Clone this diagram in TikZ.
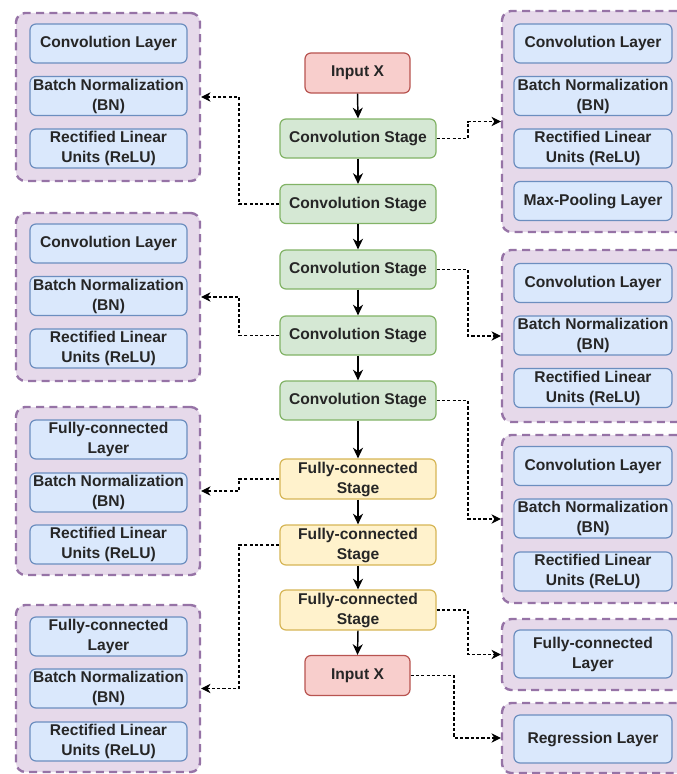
\documentclass[tikz,border=0pt]{standalone}
\usepackage{fontspec}
\setmainfont{Liberation Sans}
\usetikzlibrary{arrows.meta}

\definecolor{grpfill}{HTML}{E6D9EA}
\definecolor{grpdraw}{HTML}{9673A6}
\definecolor{layerfill}{HTML}{DAE8FC}
\definecolor{layerdraw}{HTML}{6C8EBF}
\definecolor{convfill}{HTML}{D5E8D4}
\definecolor{convdraw}{HTML}{82B366}
\definecolor{fcfill}{HTML}{FFF2CC}
\definecolor{fcdraw}{HTML}{D6B656}
\definecolor{iofill}{HTML}{F8CECC}
\definecolor{iodraw}{HTML}{B85450}

\begin{document}
\begin{tikzpicture}[x=0.75pt,y=-0.75pt,
  every node/.style={font=\bfseries\fontsize{11.7}{15}\selectfont, text=black!85,
                     align=center, inner sep=0pt},
  sz/.style 2 args={minimum width=#1*0.75pt, minimum height=#2*0.75pt},
  group/.style={draw=grpdraw, fill=grpfill, line width=1.8pt,
                dash pattern=on 6pt off 4pt, rounded corners=7pt},
  layer/.style={draw=layerdraw, fill=layerfill, line width=0.9pt,
                rounded corners=4.5pt, sz={157}{39}},
  stagebox/.style={line width=0.9pt, rounded corners=4.5pt, sz={156}{39}},
  conv/.style={stagebox, draw=convdraw, fill=convfill},
  fc/.style={stagebox, draw=fcdraw, fill=fcfill, sz={156}{40}},
  io/.style={stagebox, draw=iodraw, fill=iofill, sz={105}{40}},
  flow/.style={line width=1.1pt, -{Stealth[length=8pt, width=7.5pt, inset=2.5pt]}},
  tap/.style={line width=0.8pt, dash pattern=on 2.4pt off 1.6pt,
              -{Stealth[length=7pt, width=7pt, inset=2.2pt]}}
]
\clip (0,0) rectangle (677,774);
\fill[white] (0,0) rectangle (677,774);

% ---------- main pipeline ----------
\node[io]   (inp) at (357.5,73)  {Input X};
\node[conv] (c1)  at (358,138.5) {Convolution Stage};
\node[conv] (c2)  at (358,204)   {Convolution Stage};
\node[conv] (c3)  at (358,269.5) {Convolution Stage};
\node[conv] (c4)  at (358,335.5) {Convolution Stage};
\node[conv] (c5)  at (358,400.5) {Convolution Stage};
\node[fc]   (f1)  at (358,479)   {Fully-connected\\Stage};
\node[fc]   (f2)  at (358,545)   {Fully-connected\\Stage};
\node[fc]   (f3)  at (358,610)   {Fully-connected\\Stage};
\node[io]   (out) at (357.5,675.5) {Input X};

\foreach \a/\b in {inp/c1,c1/c2,c2/c3,c3/c4,c4/c5,c5/f1,f1/f2,f2/f3,f3/out}
  \draw[flow] (\a.south) -- (\b.north);

% ---------- left groups ----------
\node[group, sz={184}{168}] (L1) at (108,97) {};
\node[layer] (L1a) at (108.5,43.5)  {Convolution Layer};
\node[layer] (L1b) at (108.5,96)    {Batch Normalization\\(BN)};
\node[layer] (L1c) at (108.5,148.5) {Rectified Linear\\Units (ReLU)};

\node[group, sz={184}{168}] (L2) at (108,297) {};
\node[layer] (L2a) at (108.5,243.5) {Convolution Layer};
\node[layer] (L2b) at (108.5,296)   {Batch Normalization\\(BN)};
\node[layer] (L2c) at (108.5,348.5) {Rectified Linear\\Units (ReLU)};

\node[group, sz={184}{168}] (L3) at (108,491) {};
\node[layer] (L3a) at (108.5,439.5) {Fully-connected\\Layer};
\node[layer] (L3b) at (108.5,492.5) {Batch Normalization\\(BN)};
\node[layer] (L3c) at (108.5,544.5) {Rectified Linear\\Units (ReLU)};

\node[group, sz={184}{167}] (L4) at (108,688.5) {};
\node[layer] (L4a) at (108.5,636.5) {Fully-connected\\Layer};
\node[layer] (L4b) at (108.5,688.5) {Batch Normalization\\(BN)};
\node[layer] (L4c) at (108.5,741.5) {Rectified Linear\\Units (ReLU)};

% ---------- right groups ----------
\node[group, sz={184}{221}] (R1) at (594,121.5) {};
\node[layer, sz={158}{39}] (R1a) at (593,43.5)  {Convolution Layer};
\node[layer, sz={158}{39}] (R1b) at (593,96)    {Batch Normalization\\(BN)};
\node[layer, sz={158}{39}] (R1c) at (593,148.5) {Rectified Linear\\Units (ReLU)};
\node[layer, sz={158}{39}] (R1d) at (593,201)   {Max-Pooling Layer};

\node[group, sz={184}{172}] (R2) at (594,336) {};
\node[layer, sz={158}{39}] (R2a) at (593,283)   {Convolution Layer};
\node[layer, sz={158}{39}] (R2b) at (593,335.5) {Batch Normalization\\(BN)};
\node[layer, sz={158}{39}] (R2c) at (593,388)   {Rectified Linear\\Units (ReLU)};

\node[group, sz={184}{168}] (R3) at (594,519) {};
\node[layer, sz={158}{39}] (R3a) at (593,466)   {Convolution Layer};
\node[layer, sz={158}{39}] (R3b) at (593,518.5) {Batch Normalization\\(BN)};
\node[layer, sz={158}{39}] (R3c) at (593,571.5) {Rectified Linear\\Units (ReLU)};

\node[group, sz={184}{71}] (R4) at (594,654.5) {};
\node[layer, sz={158}{48}] (R4a) at (593,654) {Fully-connected\\Layer};

\node[group, sz={184}{70}] (R5) at (594,738) {};
\node[layer, sz={158}{48}] (R5a) at (593,739) {Regression Layer};

% ---------- side taps ----------
\coordinate (xl) at (239,0);
\coordinate (xr) at (468,0);
\coordinate (xo) at (454,0);

\draw[tap] (c1.east) -- (c1.east -| xr) |- (R1.west);
\draw[tap] (c3.east) -- (c3.east -| xr) |- (R2.west);
\draw[tap] (c5.east) -- (c5.east -| xr) |- (R3.west);
\draw[tap] (f3.east) -- (f3.east -| xr) |- (R4.west);
\draw[tap] (out.east) -- (out.east -| xo) |- (R5.west);

\draw[tap] (c2.west) -- (c2.west -| xl) |- (L1.east);
\draw[tap] (c4.west) -- (c4.west -| xl) |- (L2.east);
\draw[tap] (f1.west) -- (f1.west -| xl) |- (L3.east);
\draw[tap] (f2.west) -- (f2.west -| xl) |- (L4.east);
\end{tikzpicture}
\end{document}
